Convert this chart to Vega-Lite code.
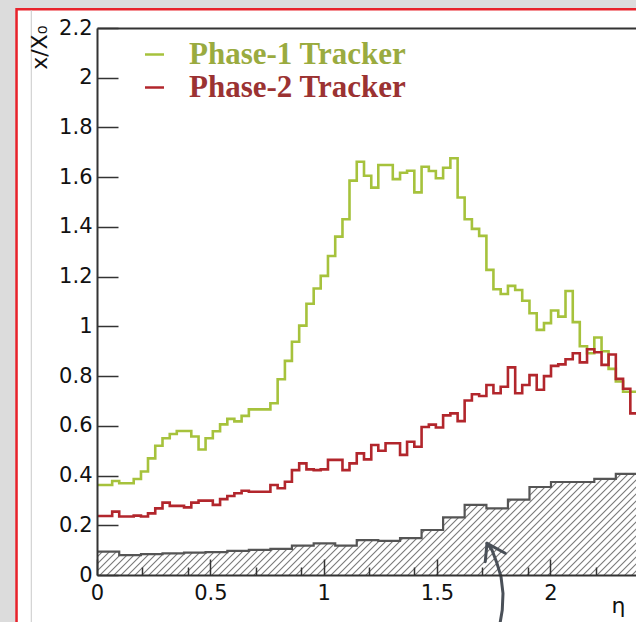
{
  "$schema": "https://vega.github.io/schema/vega-lite/v6.json",
  "width": 539,
  "height": 547,
  "autosize": {"type": "none"},
  "padding": {"left": 97, "top": 28, "right": 0, "bottom": 47},
  "background": "#dcdcdc",
  "config": {
    "view": {"stroke": null},
    "axis": {"labelOverlap": false, "labelFlush": false, "labelBound": false}
  },
  "datasets": {
    "tracker": [
      {"eta": 0, "Phase-1 Tracker": 0.362, "Phase-2 Tracker": 0.237},
      {"eta": 0.035, "Phase-1 Tracker": 0.362, "Phase-2 Tracker": 0.237},
      {"eta": 0.067, "Phase-1 Tracker": 0.378, "Phase-2 Tracker": 0.255},
      {"eta": 0.098, "Phase-1 Tracker": 0.369, "Phase-2 Tracker": 0.235},
      {"eta": 0.130, "Phase-1 Tracker": 0.369, "Phase-2 Tracker": 0.235},
      {"eta": 0.162, "Phase-1 Tracker": 0.386, "Phase-2 Tracker": 0.239},
      {"eta": 0.194, "Phase-1 Tracker": 0.416, "Phase-2 Tracker": 0.235},
      {"eta": 0.225, "Phase-1 Tracker": 0.469, "Phase-2 Tracker": 0.248},
      {"eta": 0.257, "Phase-1 Tracker": 0.520, "Phase-2 Tracker": 0.268},
      {"eta": 0.289, "Phase-1 Tracker": 0.550, "Phase-2 Tracker": 0.291},
      {"eta": 0.321, "Phase-1 Tracker": 0.567, "Phase-2 Tracker": 0.278},
      {"eta": 0.352, "Phase-1 Tracker": 0.579, "Phase-2 Tracker": 0.278},
      {"eta": 0.384, "Phase-1 Tracker": 0.579, "Phase-2 Tracker": 0.272},
      {"eta": 0.416, "Phase-1 Tracker": 0.557, "Phase-2 Tracker": 0.291},
      {"eta": 0.448, "Phase-1 Tracker": 0.505, "Phase-2 Tracker": 0.299},
      {"eta": 0.479, "Phase-1 Tracker": 0.550, "Phase-2 Tracker": 0.299},
      {"eta": 0.511, "Phase-1 Tracker": 0.578, "Phase-2 Tracker": 0.282},
      {"eta": 0.543, "Phase-1 Tracker": 0.606, "Phase-2 Tracker": 0.305},
      {"eta": 0.575, "Phase-1 Tracker": 0.628, "Phase-2 Tracker": 0.318},
      {"eta": 0.606, "Phase-1 Tracker": 0.618, "Phase-2 Tracker": 0.329},
      {"eta": 0.638, "Phase-1 Tracker": 0.640, "Phase-2 Tracker": 0.339},
      {"eta": 0.670, "Phase-1 Tracker": 0.666, "Phase-2 Tracker": 0.335},
      {"eta": 0.702, "Phase-1 Tracker": 0.666, "Phase-2 Tracker": 0.335},
      {"eta": 0.733, "Phase-1 Tracker": 0.666, "Phase-2 Tracker": 0.335},
      {"eta": 0.765, "Phase-1 Tracker": 0.691, "Phase-2 Tracker": 0.362},
      {"eta": 0.797, "Phase-1 Tracker": 0.787, "Phase-2 Tracker": 0.349},
      {"eta": 0.829, "Phase-1 Tracker": 0.861, "Phase-2 Tracker": 0.375},
      {"eta": 0.860, "Phase-1 Tracker": 0.938, "Phase-2 Tracker": 0.422},
      {"eta": 0.892, "Phase-1 Tracker": 1.003, "Phase-2 Tracker": 0.449},
      {"eta": 0.924, "Phase-1 Tracker": 1.091, "Phase-2 Tracker": 0.425},
      {"eta": 0.956, "Phase-1 Tracker": 1.152, "Phase-2 Tracker": 0.422},
      {"eta": 0.987, "Phase-1 Tracker": 1.203, "Phase-2 Tracker": 0.425},
      {"eta": 1.019, "Phase-1 Tracker": 1.283, "Phase-2 Tracker": 0.463},
      {"eta": 1.051, "Phase-1 Tracker": 1.361, "Phase-2 Tracker": 0.463},
      {"eta": 1.083, "Phase-1 Tracker": 1.431, "Phase-2 Tracker": 0.422},
      {"eta": 1.114, "Phase-1 Tracker": 1.586, "Phase-2 Tracker": 0.449},
      {"eta": 1.146, "Phase-1 Tracker": 1.662, "Phase-2 Tracker": 0.489},
      {"eta": 1.178, "Phase-1 Tracker": 1.606, "Phase-2 Tracker": 0.465},
      {"eta": 1.210, "Phase-1 Tracker": 1.558, "Phase-2 Tracker": 0.523},
      {"eta": 1.241, "Phase-1 Tracker": 1.649, "Phase-2 Tracker": 0.500},
      {"eta": 1.273, "Phase-1 Tracker": 1.649, "Phase-2 Tracker": 0.530},
      {"eta": 1.305, "Phase-1 Tracker": 1.592, "Phase-2 Tracker": 0.530},
      {"eta": 1.337, "Phase-1 Tracker": 1.618, "Phase-2 Tracker": 0.483},
      {"eta": 1.368, "Phase-1 Tracker": 1.626, "Phase-2 Tracker": 0.536},
      {"eta": 1.400, "Phase-1 Tracker": 1.539, "Phase-2 Tracker": 0.516},
      {"eta": 1.432, "Phase-1 Tracker": 1.642, "Phase-2 Tracker": 0.595},
      {"eta": 1.464, "Phase-1 Tracker": 1.625, "Phase-2 Tracker": 0.605},
      {"eta": 1.495, "Phase-1 Tracker": 1.596, "Phase-2 Tracker": 0.593},
      {"eta": 1.527, "Phase-1 Tracker": 1.638, "Phase-2 Tracker": 0.642},
      {"eta": 1.559, "Phase-1 Tracker": 1.676, "Phase-2 Tracker": 0.650},
      {"eta": 1.591, "Phase-1 Tracker": 1.518, "Phase-2 Tracker": 0.619},
      {"eta": 1.622, "Phase-1 Tracker": 1.431, "Phase-2 Tracker": 0.702},
      {"eta": 1.654, "Phase-1 Tracker": 1.392, "Phase-2 Tracker": 0.727},
      {"eta": 1.686, "Phase-1 Tracker": 1.364, "Phase-2 Tracker": 0.720},
      {"eta": 1.718, "Phase-1 Tracker": 1.227, "Phase-2 Tracker": 0.764},
      {"eta": 1.749, "Phase-1 Tracker": 1.149, "Phase-2 Tracker": 0.731},
      {"eta": 1.781, "Phase-1 Tracker": 1.130, "Phase-2 Tracker": 0.757},
      {"eta": 1.813, "Phase-1 Tracker": 1.163, "Phase-2 Tracker": 0.835},
      {"eta": 1.845, "Phase-1 Tracker": 1.146, "Phase-2 Tracker": 0.731},
      {"eta": 1.876, "Phase-1 Tracker": 1.103, "Phase-2 Tracker": 0.764},
      {"eta": 1.908, "Phase-1 Tracker": 1.053, "Phase-2 Tracker": 0.804},
      {"eta": 1.940, "Phase-1 Tracker": 0.986, "Phase-2 Tracker": 0.745},
      {"eta": 1.972, "Phase-1 Tracker": 1.013, "Phase-2 Tracker": 0.800},
      {"eta": 2.003, "Phase-1 Tracker": 1.064, "Phase-2 Tracker": 0.841},
      {"eta": 2.035, "Phase-1 Tracker": 1.039, "Phase-2 Tracker": 0.847},
      {"eta": 2.067, "Phase-1 Tracker": 1.142, "Phase-2 Tracker": 0.868},
      {"eta": 2.099, "Phase-1 Tracker": 1.017, "Phase-2 Tracker": 0.892},
      {"eta": 2.130, "Phase-1 Tracker": 0.920, "Phase-2 Tracker": 0.855},
      {"eta": 2.162, "Phase-1 Tracker": 0.892, "Phase-2 Tracker": 0.908},
      {"eta": 2.194, "Phase-1 Tracker": 0.955, "Phase-2 Tracker": 0.896},
      {"eta": 2.226, "Phase-1 Tracker": 0.900, "Phase-2 Tracker": 0.845},
      {"eta": 2.257, "Phase-1 Tracker": 0.829, "Phase-2 Tracker": 0.887},
      {"eta": 2.289, "Phase-1 Tracker": 0.778, "Phase-2 Tracker": 0.789},
      {"eta": 2.321, "Phase-1 Tracker": 0.737, "Phase-2 Tracker": 0.749},
      {"eta": 2.353, "Phase-1 Tracker": 0.737, "Phase-2 Tracker": 0.650},
      {"eta": 2.384, "Phase-1 Tracker": 0.735, "Phase-2 Tracker": 0.650},
      {"eta": 2.400, "Phase-1 Tracker": 0.735, "Phase-2 Tracker": 0.650}
    ],
    "support": [
      {"eta": 0, "x0": 0.094},
      {"eta": 0.098, "x0": 0.080},
      {"eta": 0.194, "x0": 0.084},
      {"eta": 0.289, "x0": 0.087},
      {"eta": 0.384, "x0": 0.090},
      {"eta": 0.479, "x0": 0.092},
      {"eta": 0.575, "x0": 0.097},
      {"eta": 0.670, "x0": 0.101},
      {"eta": 0.765, "x0": 0.105},
      {"eta": 0.860, "x0": 0.118},
      {"eta": 0.956, "x0": 0.127},
      {"eta": 1.051, "x0": 0.118},
      {"eta": 1.146, "x0": 0.140},
      {"eta": 1.241, "x0": 0.137},
      {"eta": 1.337, "x0": 0.148},
      {"eta": 1.432, "x0": 0.181},
      {"eta": 1.527, "x0": 0.232},
      {"eta": 1.622, "x0": 0.282},
      {"eta": 1.718, "x0": 0.268},
      {"eta": 1.813, "x0": 0.303},
      {"eta": 1.908, "x0": 0.354},
      {"eta": 2.003, "x0": 0.374},
      {"eta": 2.099, "x0": 0.374},
      {"eta": 2.194, "x0": 0.387},
      {"eta": 2.289, "x0": 0.407},
      {"eta": 2.384, "x0": 0.410},
      {"eta": 2.400, "x0": 0.410}
    ],
    "arrow": [
      {"part": "shaft", "step": 0, "eta": 1.7206, "x0": 0.1274},
      {"part": "shaft", "step": 1, "eta": 1.7426, "x0": 0.1006},
      {"part": "shaft", "step": 2, "eta": 1.7647, "x0": 0.047},
      {"part": "shaft", "step": 3, "eta": 1.7824, "x0": -0.0068},
      {"part": "shaft", "step": 4, "eta": 1.7912, "x0": -0.0737},
      {"part": "shaft", "step": 5, "eta": 1.788, "x0": -0.141},
      {"part": "shaft", "step": 6, "eta": 1.7793, "x0": -0.188},
      {"part": "shaft", "step": 7, "eta": 1.776, "x0": -0.24},
      {"part": "head", "step": 0, "eta": 1.713, "x0": 0.0535},
      {"part": "head", "step": 1, "eta": 1.7206, "x0": 0.1274},
      {"part": "head", "step": 2, "eta": 1.8013, "x0": 0.0873}
    ]
  },
  "layer": [
    {
      "data": {"values": [{}]},
      "mark": {"type": "rect", "fill": "#ffffff", "stroke": "#e8222b", "strokeWidth": 2.5},
      "encoding": {
        "x": {
          "datum": -0.355,
          "type": "quantitative",
          "title": "η",
          "scale": {"domain": [0, 2.378], "nice": false, "zero": false},
          "axis": {
            "values": [0, 0.1, 0.2, 0.3, 0.4, 0.4, 0.5, 0.6, 0.7, 0.8, 0.9, 0.9, 1, 1.1, 1.2, 1.3, 1.4, 1.4, 1.5, 1.6, 1.7, 1.8, 1.9, 1.9, 2, 2.1, 2.2, 2.3],
            "labelExpr": "abs(datum.value*2 - round(datum.value*2)) < 0.001 ? '' + round(datum.value*10)/10 : ''",
            "labelFont": "DejaVu Sans",
            "labelFontSize": 21,
            "labelColor": "#111",
            "labelAlign": "center",
            "labelBaseline": "top",
            "labelPadding": 23,
            "labelFlush": false,
            "labelOverlap": false,
            "labelBound": false,
            "tickSize": {"condition": {"test": "abs(datum.value*2 - round(datum.value*2)) < 0.001", "value": -16}, "value": -8},
            "tickColor": "#333",
            "tickWidth": 1.5,
            "domainColor": "#333",
            "domainWidth": 2,
            "grid": false,
            "title": "η",
            "titleFont": "DejaVu Sans",
            "titleFontSize": 22,
            "titleFontWeight": "normal",
            "titleColor": "#111",
            "titleAlign": "right",
            "titleBaseline": "alphabetic",
            "titleX": 528,
            "titleY": 37,
            "zindex": 1
          }
        },
        "x2": {"datum": 2.6},
        "y": {
          "datum": 2.275,
          "type": "quantitative",
          "title": "x/X₀",
          "scale": {"domain": [0, 2.2], "nice": false, "zero": false},
          "axis": {
            "values": [0, 0.05, 0.1, 0.15, 0.2, 0.25, 0.3, 0.35, 0.4, 0.45, 0.5, 0.55, 0.6, 0.65, 0.7, 0.75, 0.8, 0.85, 0.9, 0.95, 1, 1.05, 1.1, 1.15, 1.2, 1.25, 1.3, 1.35, 1.4, 1.45, 1.5, 1.55, 1.6, 1.65, 1.7, 1.75, 1.8, 1.85, 1.9, 1.95, 2, 2.05, 2.1, 2.15, 2.2],
            "labelExpr": "abs(datum.value*5 - round(datum.value*5)) < 0.001 ? '' + round(datum.value*10)/10 : ''",
            "labelFont": "DejaVu Sans",
            "labelFontSize": 21,
            "labelColor": "#111",
            "labelAlign": "right",
            "labelBaseline": "middle",
            "labelPadding": 26,
            "labelOverlap": false,
            "labelBound": false,
            "tickSize": {"condition": {"test": "abs(datum.value*5 - round(datum.value*5)) < 0.001", "value": -21}, "value": -11},
            "tickColor": "#333",
            "tickWidth": 1.5,
            "domainColor": "#333",
            "domainWidth": 2,
            "grid": true,
            "gridColor": "#333",
            "gridWidth": 2,
            "gridOpacity": {"condition": {"test": "datum.value > 2.19", "value": 1}, "value": 0},
            "title": "x/X₀",
            "titleFont": "DejaVu Sans",
            "titleFontSize": 22,
            "titleFontWeight": "normal",
            "titleColor": "#111",
            "titleAngle": 270,
            "titleAlign": "right",
            "titleBaseline": "alphabetic",
            "titleX": -51,
            "titleY": -3,
            "zindex": 1
          }
        },
        "y2": {"datum": -0.4}
      }
    },
    {
      "data": {"values": [{}]},
      "mark": {"type": "rule", "color": "#c9c9c9", "strokeWidth": 1},
      "encoding": {
        "x": {"datum": -0.29, "type": "quantitative", "title": "η", "scale": {"domain": [0, 2.378], "nice": false, "zero": false}},
        "y": {"datum": 2.272, "type": "quantitative", "title": "x/X₀", "scale": {"domain": [0, 2.2], "nice": false, "zero": false}},
        "y2": {"datum": -0.4}
      }
    },
    {
      "data": {"name": "support"},
      "mark": {
        "type": "area",
        "interpolate": "step-after",
        "clip": true,
        "fill": {
          "gradient": "linear",
          "x1": 0, "y1": 0, "x2": 1.2432, "y2": 0.2329,
          "stops": [
            {"offset":0,"color":"#777"},{"offset":0.002,"color":"#fff"},{"offset":0.008,"color":"#fff"},
            {"offset":0.01,"color":"#777"},{"offset":0.012,"color":"#fff"},{"offset":0.018,"color":"#fff"},
            {"offset":0.02,"color":"#777"},{"offset":0.022,"color":"#fff"},{"offset":0.028,"color":"#fff"},
            {"offset":0.03,"color":"#777"},{"offset":0.032,"color":"#fff"},{"offset":0.038,"color":"#fff"},
            {"offset":0.04,"color":"#777"},{"offset":0.042,"color":"#fff"},{"offset":0.048,"color":"#fff"},
            {"offset":0.05,"color":"#777"},{"offset":0.052,"color":"#fff"},{"offset":0.058,"color":"#fff"},
            {"offset":0.06,"color":"#777"},{"offset":0.062,"color":"#fff"},{"offset":0.068,"color":"#fff"},
            {"offset":0.07,"color":"#777"},{"offset":0.072,"color":"#fff"},{"offset":0.078,"color":"#fff"},
            {"offset":0.08,"color":"#777"},{"offset":0.082,"color":"#fff"},{"offset":0.088,"color":"#fff"},
            {"offset":0.09,"color":"#777"},{"offset":0.092,"color":"#fff"},{"offset":0.098,"color":"#fff"},
            {"offset":0.1,"color":"#777"},{"offset":0.102,"color":"#fff"},{"offset":0.108,"color":"#fff"},
            {"offset":0.11,"color":"#777"},{"offset":0.112,"color":"#fff"},{"offset":0.118,"color":"#fff"},
            {"offset":0.12,"color":"#777"},{"offset":0.122,"color":"#fff"},{"offset":0.128,"color":"#fff"},
            {"offset":0.13,"color":"#777"},{"offset":0.132,"color":"#fff"},{"offset":0.138,"color":"#fff"},
            {"offset":0.14,"color":"#777"},{"offset":0.142,"color":"#fff"},{"offset":0.148,"color":"#fff"},
            {"offset":0.15,"color":"#777"},{"offset":0.152,"color":"#fff"},{"offset":0.158,"color":"#fff"},
            {"offset":0.16,"color":"#777"},{"offset":0.162,"color":"#fff"},{"offset":0.168,"color":"#fff"},
            {"offset":0.17,"color":"#777"},{"offset":0.172,"color":"#fff"},{"offset":0.178,"color":"#fff"},
            {"offset":0.18,"color":"#777"},{"offset":0.182,"color":"#fff"},{"offset":0.188,"color":"#fff"},
            {"offset":0.19,"color":"#777"},{"offset":0.192,"color":"#fff"},{"offset":0.198,"color":"#fff"},
            {"offset":0.2,"color":"#777"},{"offset":0.202,"color":"#fff"},{"offset":0.208,"color":"#fff"},
            {"offset":0.21,"color":"#777"},{"offset":0.212,"color":"#fff"},{"offset":0.218,"color":"#fff"},
            {"offset":0.22,"color":"#777"},{"offset":0.222,"color":"#fff"},{"offset":0.228,"color":"#fff"},
            {"offset":0.23,"color":"#777"},{"offset":0.232,"color":"#fff"},{"offset":0.238,"color":"#fff"},
            {"offset":0.24,"color":"#777"},{"offset":0.242,"color":"#fff"},{"offset":0.248,"color":"#fff"},
            {"offset":0.25,"color":"#777"},{"offset":0.252,"color":"#fff"},{"offset":0.258,"color":"#fff"},
            {"offset":0.26,"color":"#777"},{"offset":0.262,"color":"#fff"},{"offset":0.268,"color":"#fff"},
            {"offset":0.27,"color":"#777"},{"offset":0.272,"color":"#fff"},{"offset":0.278,"color":"#fff"},
            {"offset":0.28,"color":"#777"},{"offset":0.282,"color":"#fff"},{"offset":0.288,"color":"#fff"},
            {"offset":0.29,"color":"#777"},{"offset":0.292,"color":"#fff"},{"offset":0.298,"color":"#fff"},
            {"offset":0.3,"color":"#777"},{"offset":0.302,"color":"#fff"},{"offset":0.308,"color":"#fff"},
            {"offset":0.31,"color":"#777"},{"offset":0.312,"color":"#fff"},{"offset":0.318,"color":"#fff"},
            {"offset":0.32,"color":"#777"},{"offset":0.322,"color":"#fff"},{"offset":0.328,"color":"#fff"},
            {"offset":0.33,"color":"#777"},{"offset":0.332,"color":"#fff"},{"offset":0.338,"color":"#fff"},
            {"offset":0.34,"color":"#777"},{"offset":0.342,"color":"#fff"},{"offset":0.348,"color":"#fff"},
            {"offset":0.35,"color":"#777"},{"offset":0.352,"color":"#fff"},{"offset":0.358,"color":"#fff"},
            {"offset":0.36,"color":"#777"},{"offset":0.362,"color":"#fff"},{"offset":0.368,"color":"#fff"},
            {"offset":0.37,"color":"#777"},{"offset":0.372,"color":"#fff"},{"offset":0.378,"color":"#fff"},
            {"offset":0.38,"color":"#777"},{"offset":0.382,"color":"#fff"},{"offset":0.388,"color":"#fff"},
            {"offset":0.39,"color":"#777"},{"offset":0.392,"color":"#fff"},{"offset":0.398,"color":"#fff"},
            {"offset":0.4,"color":"#777"},{"offset":0.402,"color":"#fff"},{"offset":0.408,"color":"#fff"},
            {"offset":0.41,"color":"#777"},{"offset":0.412,"color":"#fff"},{"offset":0.418,"color":"#fff"},
            {"offset":0.42,"color":"#777"},{"offset":0.422,"color":"#fff"},{"offset":0.428,"color":"#fff"},
            {"offset":0.43,"color":"#777"},{"offset":0.432,"color":"#fff"},{"offset":0.438,"color":"#fff"},
            {"offset":0.44,"color":"#777"},{"offset":0.442,"color":"#fff"},{"offset":0.448,"color":"#fff"},
            {"offset":0.45,"color":"#777"},{"offset":0.452,"color":"#fff"},{"offset":0.458,"color":"#fff"},
            {"offset":0.46,"color":"#777"},{"offset":0.462,"color":"#fff"},{"offset":0.468,"color":"#fff"},
            {"offset":0.47,"color":"#777"},{"offset":0.472,"color":"#fff"},{"offset":0.478,"color":"#fff"},
            {"offset":0.48,"color":"#777"},{"offset":0.482,"color":"#fff"},{"offset":0.488,"color":"#fff"},
            {"offset":0.49,"color":"#777"},{"offset":0.492,"color":"#fff"},{"offset":0.498,"color":"#fff"},
            {"offset":0.5,"color":"#777"},{"offset":0.502,"color":"#fff"},{"offset":0.508,"color":"#fff"},
            {"offset":0.51,"color":"#777"},{"offset":0.512,"color":"#fff"},{"offset":0.518,"color":"#fff"},
            {"offset":0.52,"color":"#777"},{"offset":0.522,"color":"#fff"},{"offset":0.528,"color":"#fff"},
            {"offset":0.53,"color":"#777"},{"offset":0.532,"color":"#fff"},{"offset":0.538,"color":"#fff"},
            {"offset":0.54,"color":"#777"},{"offset":0.542,"color":"#fff"},{"offset":0.548,"color":"#fff"},
            {"offset":0.55,"color":"#777"},{"offset":0.552,"color":"#fff"},{"offset":0.558,"color":"#fff"},
            {"offset":0.56,"color":"#777"},{"offset":0.562,"color":"#fff"},{"offset":0.568,"color":"#fff"},
            {"offset":0.57,"color":"#777"},{"offset":0.572,"color":"#fff"},{"offset":0.578,"color":"#fff"},
            {"offset":0.58,"color":"#777"},{"offset":0.582,"color":"#fff"},{"offset":0.588,"color":"#fff"},
            {"offset":0.59,"color":"#777"},{"offset":0.592,"color":"#fff"},{"offset":0.598,"color":"#fff"},
            {"offset":0.6,"color":"#777"},{"offset":0.602,"color":"#fff"},{"offset":0.608,"color":"#fff"},
            {"offset":0.61,"color":"#777"},{"offset":0.612,"color":"#fff"},{"offset":0.618,"color":"#fff"},
            {"offset":0.62,"color":"#777"},{"offset":0.622,"color":"#fff"},{"offset":0.628,"color":"#fff"},
            {"offset":0.63,"color":"#777"},{"offset":0.632,"color":"#fff"},{"offset":0.638,"color":"#fff"},
            {"offset":0.64,"color":"#777"},{"offset":0.642,"color":"#fff"},{"offset":0.648,"color":"#fff"},
            {"offset":0.65,"color":"#777"},{"offset":0.652,"color":"#fff"},{"offset":0.658,"color":"#fff"},
            {"offset":0.66,"color":"#777"},{"offset":0.662,"color":"#fff"},{"offset":0.668,"color":"#fff"},
            {"offset":0.67,"color":"#777"},{"offset":0.672,"color":"#fff"},{"offset":0.678,"color":"#fff"},
            {"offset":0.68,"color":"#777"},{"offset":0.682,"color":"#fff"},{"offset":0.688,"color":"#fff"},
            {"offset":0.69,"color":"#777"},{"offset":0.692,"color":"#fff"},{"offset":0.698,"color":"#fff"},
            {"offset":0.7,"color":"#777"},{"offset":0.702,"color":"#fff"},{"offset":0.708,"color":"#fff"},
            {"offset":0.71,"color":"#777"},{"offset":0.712,"color":"#fff"},{"offset":0.718,"color":"#fff"},
            {"offset":0.72,"color":"#777"},{"offset":0.722,"color":"#fff"},{"offset":0.728,"color":"#fff"},
            {"offset":0.73,"color":"#777"},{"offset":0.732,"color":"#fff"},{"offset":0.738,"color":"#fff"},
            {"offset":0.74,"color":"#777"},{"offset":0.742,"color":"#fff"},{"offset":0.748,"color":"#fff"},
            {"offset":0.75,"color":"#777"},{"offset":0.752,"color":"#fff"},{"offset":0.758,"color":"#fff"},
            {"offset":0.76,"color":"#777"},{"offset":0.762,"color":"#fff"},{"offset":0.768,"color":"#fff"},
            {"offset":0.77,"color":"#777"},{"offset":0.772,"color":"#fff"},{"offset":0.778,"color":"#fff"},
            {"offset":0.78,"color":"#777"},{"offset":0.782,"color":"#fff"},{"offset":0.788,"color":"#fff"},
            {"offset":0.79,"color":"#777"},{"offset":0.792,"color":"#fff"},{"offset":0.798,"color":"#fff"},
            {"offset":0.8,"color":"#777"},{"offset":0.802,"color":"#fff"},{"offset":0.808,"color":"#fff"},
            {"offset":0.81,"color":"#777"},{"offset":0.812,"color":"#fff"},{"offset":0.818,"color":"#fff"},
            {"offset":0.82,"color":"#777"},{"offset":0.822,"color":"#fff"},{"offset":0.828,"color":"#fff"},
            {"offset":0.83,"color":"#777"},{"offset":0.832,"color":"#fff"},{"offset":0.838,"color":"#fff"},
            {"offset":0.84,"color":"#777"},{"offset":0.842,"color":"#fff"},{"offset":0.848,"color":"#fff"},
            {"offset":0.85,"color":"#777"},{"offset":0.852,"color":"#fff"},{"offset":0.858,"color":"#fff"},
            {"offset":0.86,"color":"#777"},{"offset":0.862,"color":"#fff"},{"offset":0.868,"color":"#fff"},
            {"offset":0.87,"color":"#777"},{"offset":0.872,"color":"#fff"},{"offset":0.878,"color":"#fff"},
            {"offset":0.88,"color":"#777"},{"offset":0.882,"color":"#fff"},{"offset":0.888,"color":"#fff"},
            {"offset":0.89,"color":"#777"},{"offset":0.892,"color":"#fff"},{"offset":0.898,"color":"#fff"},
            {"offset":0.9,"color":"#777"},{"offset":0.902,"color":"#fff"},{"offset":0.908,"color":"#fff"},
            {"offset":0.91,"color":"#777"},{"offset":0.912,"color":"#fff"},{"offset":0.918,"color":"#fff"},
            {"offset":0.92,"color":"#777"},{"offset":0.922,"color":"#fff"},{"offset":0.928,"color":"#fff"},
            {"offset":0.93,"color":"#777"},{"offset":0.932,"color":"#fff"},{"offset":0.938,"color":"#fff"},
            {"offset":0.94,"color":"#777"},{"offset":0.942,"color":"#fff"},{"offset":0.948,"color":"#fff"},
            {"offset":0.95,"color":"#777"},{"offset":0.952,"color":"#fff"},{"offset":0.958,"color":"#fff"},
            {"offset":0.96,"color":"#777"},{"offset":0.962,"color":"#fff"},{"offset":0.968,"color":"#fff"},
            {"offset":0.97,"color":"#777"},{"offset":0.972,"color":"#fff"},{"offset":0.978,"color":"#fff"},
            {"offset":0.98,"color":"#777"},{"offset":0.982,"color":"#fff"},{"offset":0.988,"color":"#fff"},
            {"offset":0.99,"color":"#777"},{"offset":0.992,"color":"#fff"},{"offset":0.998,"color":"#fff"},
            {"offset":1,"color":"#777"}
          ]
        }
      },
      "encoding": {
        "x": {"field": "eta", "type": "quantitative", "title": "η", "scale": {"domain": [0, 2.378], "nice": false, "zero": false}},
        "y": {"field": "x0", "type": "quantitative", "title": "x/X₀", "scale": {"domain": [0, 2.2], "nice": false, "zero": false}}
      }
    },
    {
      "data": {"name": "support"},
      "mark": {"type": "line", "interpolate": "step-after", "clip": true, "color": "#555555", "strokeWidth": 2.2},
      "encoding": {
        "x": {"field": "eta", "type": "quantitative", "title": "η", "scale": {"domain": [0, 2.378], "nice": false, "zero": false}},
        "y": {"field": "x0", "type": "quantitative", "title": "x/X₀", "scale": {"domain": [0, 2.2], "nice": false, "zero": false}}
      }
    },
    {
      "data": {"name": "tracker"},
      "transform": [{"fold": ["Phase-1 Tracker", "Phase-2 Tracker"], "as": ["tracker", "x0"]}],
      "mark": {"type": "line", "interpolate": "step-after", "clip": true, "strokeWidth": 2.6},
      "encoding": {
        "x": {"field": "eta", "type": "quantitative", "title": "η", "scale": {"domain": [0, 2.378], "nice": false, "zero": false}},
        "y": {"field": "x0", "type": "quantitative", "title": "x/X₀", "scale": {"domain": [0, 2.2], "nice": false, "zero": false}},
        "color": {
          "field": "tracker",
          "type": "nominal",
          "scale": {"domain": ["Phase-1 Tracker", "Phase-2 Tracker"], "range": ["#a6c23c", "#b2262c"]},
          "legend": {
            "orient": "none",
            "legendX": 42,
            "legendY": 11,
            "title": null,
            "padding": 0,
            "symbolType": "stroke",
            "symbolSize": 361,
            "symbolStrokeWidth": 2.5,
            "labelFont": "Liberation Serif",
            "labelFontWeight": "bold",
            "labelFontSize": 31,
            "labelOffset": 19,
            "labelLimit": 400,
            "rowPadding": 1,
            "labelColor": {"expr": "datum.value == 'Phase-1 Tracker' ? '#9aab3f' : '#9b3232'"}
          }
        }
      }
    },
    {
      "data": {"name": "arrow"},
      "mark": {"type": "line", "color": "#4a5058", "strokeWidth": 3, "strokeCap": "round", "strokeJoin": "round"},
      "encoding": {
        "x": {"field": "eta", "type": "quantitative", "title": "η", "scale": {"domain": [0, 2.378], "nice": false, "zero": false}},
        "y": {"field": "x0", "type": "quantitative", "title": "x/X₀", "scale": {"domain": [0, 2.2], "nice": false, "zero": false}},
        "detail": {"field": "part", "type": "nominal"},
        "order": {"field": "step", "type": "quantitative"}
      }
    }
  ]
}
